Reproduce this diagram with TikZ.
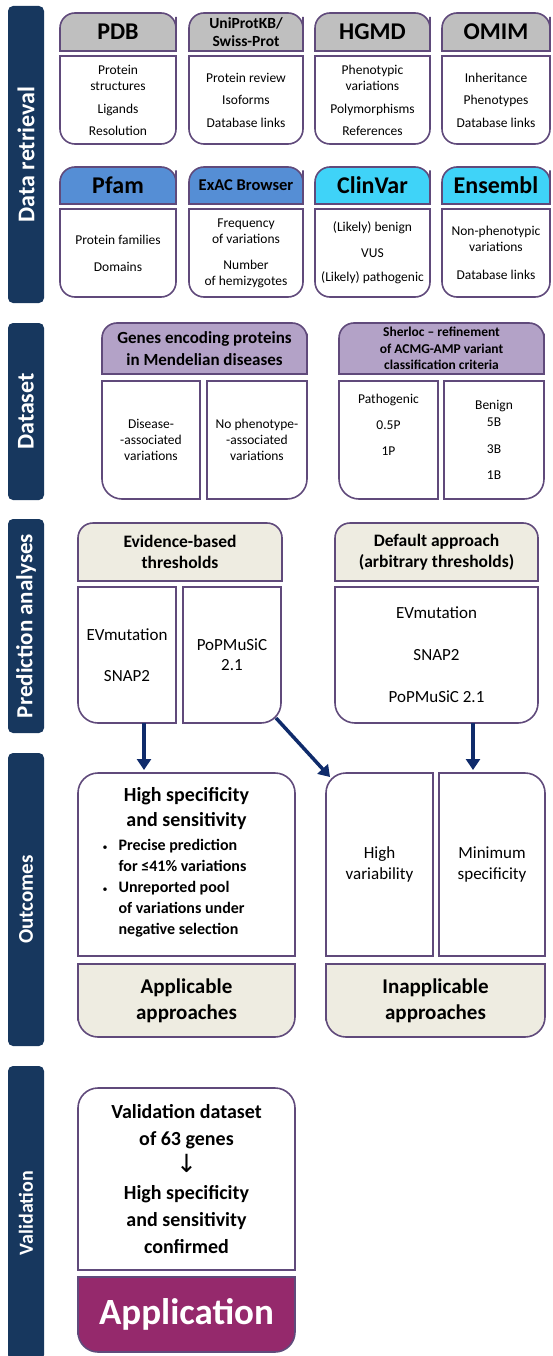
\documentclass[tikz,border=0pt]{standalone}
\usepackage{fontspec}
\setmainfont{Carlito}
\newfontfamily\dejavu{DejaVu Sans}
\usepackage{tikz}
\usetikzlibrary{arrows.meta,backgrounds}

\definecolor{barblue}{HTML}{17375E}
\definecolor{edge}{HTML}{604A7B}
\definecolor{headgray}{HTML}{BFBFBF}
\definecolor{headblue}{HTML}{558ED5}
\definecolor{headcyan}{HTML}{3FD3F8}
\definecolor{headlilac}{HTML}{B3A2C7}
\definecolor{headbeige}{HTML}{EEECE1}
\definecolor{applpurple}{HTML}{95296C}
\definecolor{arrowblue}{HTML}{0F2B6B}

\newcommand{\boxshape}[6]{%
  \filldraw[fill=#2, draw=edge, line width=1.6pt]
    (#1.west) [#3] -- (#1.north west) -- (#1.north)
    [#4] -- (#1.north east) -- (#1.east)
    [#5] -- (#1.south east) -- (#1.south)
    [#6] -- (#1.south west) -- cycle;}
\newcommand{\dotmark}{{\fontsize{10}{10}\selectfont\mdseries •}}

\tikzset{
  rc/.style={rounded corners=15pt},
  rcb/.style={rounded corners=20pt},
  sc/.style={sharp corners},
  sidebar/.style={rotate=90, fill=barblue, rounded corners=5pt, text=white,
    minimum height=36pt, inner sep=0pt, font=\bfseries\fontsize{24}{28}\selectfont},
  cell/.style={inner sep=0pt, outer sep=0pt, align=center},
  dbname/.style={cell, font=\bfseries\fontsize{24}{28}\selectfont},
  dbtext/.style={cell, font=\fontsize{13.5}{16}\selectfont},
  ptext/.style={cell, font=\fontsize{17}{20}\selectfont},
  flow/.style={draw=arrowblue, line width=3.5pt, -{Triangle[length=11pt,width=14pt]}}
}

\begin{document}
\begin{tikzpicture}[x=1pt, y=-1pt]
  \useasboundingbox (0,0) rectangle (552,1356);
  \clip (0,0) rectangle (552,1356);

  \node[sidebar, minimum width=297pt] (retr) at (26,154.5) {Data retrieval};
  \node[sidebar, minimum width=177pt] (dset) at (26,411.5) {Dataset};
  \node[sidebar, minimum width=214pt, font=\bfseries\fontsize{23}{27}\selectfont] (pred) at (26,626) {Prediction analyses};
  \node[sidebar, minimum width=293pt, font=\bfseries\fontsize{21}{25}\selectfont] (outc) at (26,899.5) {Outcomes};
  \node[sidebar, minimum width=294pt, font=\bfseries\fontsize{20}{24}\selectfont] (vali) at (26,1213) {Validation};

  \node[dbname, minimum width=116pt, minimum height=38pt] (pdbh) at (118,32) {PDB};
  \node[dbtext, minimum width=116pt, minimum height=88pt] (pdbb) at (118,100) {Protein\\structures\\[7pt]Ligands\\[6pt]Resolution};
  \node[cell, font=\bfseries\fontsize{15.5}{18}\selectfont, minimum width=114pt, minimum height=38pt] (unih) at (246,32) {UniProtKB/\\Swiss-Prot};
  \node[dbtext, minimum width=114pt, minimum height=88pt] (unib) at (246,100) {Protein review\\[6.5pt]Isoforms\\[6.5pt]Database links};
  \node[dbname, minimum width=115pt, minimum height=38pt] (hgmdh) at (372.5,32) {HGMD};
  \node[dbtext, minimum width=115pt, minimum height=88pt] (hgmdb) at (372.5,100) {Phenotypic\\variations\\[7pt]Polymorphisms\\[6pt]References};
  \node[dbname, minimum width=108pt, minimum height=38pt] (omimh) at (496,32) {OMIM};
  \node[dbtext, minimum width=108pt, minimum height=88pt] (omimb) at (496,100) {Inheritance\\[6.5pt]Phenotypes\\[6.5pt]Database links};

  \node[dbname, minimum width=116pt, minimum height=37pt] (pfamh) at (118,185.5) {Pfam};
  \node[dbtext, minimum width=116pt, minimum height=88pt] (pfamb) at (118,253) {Protein families\\[11pt]Domains};
  \node[cell, font=\bfseries\fontsize{16.5}{19}\selectfont, minimum width=114pt, minimum height=37pt] (exach) at (246,185.5) {ExAC Browser};
  \node[dbtext, minimum width=114pt, minimum height=88pt] (exacb) at (246,253) {Frequency\\of variations\\[10pt]Number\\of hemizygotes};
  \node[dbname, minimum width=115pt, minimum height=37pt] (clinh) at (372.5,185.5) {ClinVar};
  \node[dbtext, minimum width=115pt, minimum height=88pt] (clinb) at (372.5,253) {(Likely) benign\\[10pt]VUS\\[8pt](Likely) pathogenic};
  \node[dbname, minimum width=108pt, minimum height=37pt] (enseh) at (496,185.5) {Ensembl};
  \node[dbtext, minimum width=108pt, minimum height=88pt] (enseb) at (496,253) {Non-phenotypic\\variations\\[12pt]Database links};

  \node[cell, font=\bfseries\fontsize{17}{22}\selectfont, minimum width=205pt, minimum height=51pt] (genesh) at (204.5,348.5) {Genes encoding proteins\\in Mendelian diseases};
  \node[dbtext, minimum width=98pt, minimum height=118pt] (disease) at (151,440) {Disease-\\-associated\\variations};
  \node[dbtext, minimum width=100pt, minimum height=118pt] (nopheno) at (257,440) {No phenotype-\\-associated\\variations};
  \node[cell, font=\bfseries\fontsize{13.5}{16.5}\selectfont, minimum width=205pt, minimum height=51pt] (sherh) at (441.5,348.5) {Sherloc -- refinement\\of ACMG-AMP variant\\classification criteria};
  \node[dbtext, minimum width=99pt, minimum height=118pt] (patho) at (388.5,440) {Pathogenic\\[10pt]0.5P\\[10pt]1P\\[10pt]\strut};
  \node[dbtext, minimum width=100pt, minimum height=118pt] (benign) at (494,440) {Benign\\[1pt]5B\\[11pt]3B\\[10pt]1B};

  \node[cell, font=\bfseries\fontsize{17.5}{21}\selectfont, minimum width=204pt, minimum height=58pt] (evhead) at (180,552) {Evidence-based\\thresholds};
  \node[ptext, minimum width=98pt, minimum height=136pt] (evleft) at (127,655) {EVmutation\\[21pt]SNAP2};
  \node[ptext, minimum width=98pt, minimum height=136pt] (evright) at (232,655) {PoPMuSiC\\2.1};
  \node[cell, font=\bfseries\fontsize{17.5}{21}\selectfont, minimum width=203pt, minimum height=58pt] (defhead) at (436.5,552) {Default approach\\(arbitrary thresholds)};
  \node[ptext, minimum width=203pt, minimum height=136pt] (defbody) at (436.5,655) {EVmutation\\[22pt]SNAP2\\[22pt]PoPMuSiC 2.1};

  \node[cell, font=\bfseries\fontsize{20}{25}\selectfont, minimum width=217pt, minimum height=183pt] (applic) at (186.5,864.5)
    {High specificity\\and sensitivity\\[-1pt]
     {\fontsize{16}{21}\selectfont\begin{tabular}[t]{@{}l@{\hspace{11pt}}l@{}}
       \dotmark&Precise prediction\\ &for ≤41\% variations\\ \dotmark&Unreported pool\\ &of variations under\\ &negative selection
     \end{tabular}\hspace*{24pt}}};
  \node[cell, font=\bfseries\fontsize{21}{26}\selectfont, minimum width=217pt, minimum height=73pt] (applbot) at (186.5,1000.5) {Applicable\\approaches};
  \node[ptext, font=\fontsize{17}{21}\selectfont, minimum width=107pt, minimum height=183pt] (inleft) at (379.5,864.5) {High\\variability};
  \node[ptext, font=\fontsize{17}{21}\selectfont, minimum width=106pt, minimum height=183pt] (inright) at (492,864.5) {Minimum\\specificity};
  \node[cell, font=\bfseries\fontsize{21}{26}\selectfont, minimum width=219pt, minimum height=73pt] (inbot) at (435.5,1000.5) {Inapplicable\\approaches};

  \node[cell, font=\bfseries\fontsize{20}{27}\selectfont, minimum width=217pt, minimum height=182pt] (valid) at (186.5,1179)
    {Validation dataset\\of 63 genes\\{\dejavu\mdseries\fontsize{25}{27}\selectfont ↓}\\High specificity\\and sensitivity\\confirmed};
  \node[cell, font=\bfseries\fontsize{37}{40}\selectfont, text=white, minimum width=217pt, minimum height=75pt] (appl) at (186.5,1314.5) {Application};

  \begin{scope}[on background layer]
    \boxshape{pdbh}{headgray}{rc}{rc}{sc}{sc}
    \boxshape{pdbb}{white}{sc}{sc}{rc}{rc}
    \boxshape{unih}{headgray}{rc}{rc}{sc}{sc}
    \boxshape{unib}{white}{sc}{sc}{rc}{rc}
    \boxshape{hgmdh}{headgray}{rc}{rc}{sc}{sc}
    \boxshape{hgmdb}{white}{sc}{sc}{rc}{rc}
    \boxshape{omimh}{headgray}{rc}{rc}{sc}{sc}
    \boxshape{omimb}{white}{sc}{sc}{rc}{rc}
    \boxshape{pfamh}{headblue}{rc}{rc}{sc}{sc}
    \boxshape{pfamb}{white}{sc}{sc}{rc}{rc}
    \boxshape{exach}{headblue}{rc}{rc}{sc}{sc}
    \boxshape{exacb}{white}{sc}{sc}{rc}{rc}
    \boxshape{clinh}{headcyan}{rc}{rc}{sc}{sc}
    \boxshape{clinb}{white}{sc}{sc}{rc}{rc}
    \boxshape{enseh}{headcyan}{rc}{rc}{sc}{sc}
    \boxshape{enseb}{white}{sc}{sc}{rc}{rc}
    \boxshape{genesh}{headlilac}{rc}{rc}{sc}{sc}
    \boxshape{disease}{white}{sc}{sc}{sc}{rcb}
    \boxshape{nopheno}{white}{sc}{sc}{rcb}{sc}
    \boxshape{sherh}{headlilac}{rc}{rc}{sc}{sc}
    \boxshape{patho}{white}{sc}{sc}{sc}{rcb}
    \boxshape{benign}{white}{sc}{sc}{rcb}{sc}
    \boxshape{evhead}{headbeige}{rc}{rc}{sc}{sc}
    \boxshape{evleft}{white}{sc}{sc}{sc}{rcb}
    \boxshape{evright}{white}{sc}{sc}{rcb}{sc}
    \boxshape{defhead}{headbeige}{rc}{rc}{sc}{sc}
    \boxshape{defbody}{white}{sc}{sc}{rcb}{rcb}
    \boxshape{applic}{white}{rcb}{rcb}{sc}{sc}
    \boxshape{applbot}{headbeige}{sc}{sc}{rcb}{rcb}
    \boxshape{inleft}{white}{rcb}{sc}{sc}{sc}
    \boxshape{inright}{white}{sc}{rcb}{sc}{sc}
    \boxshape{inbot}{headbeige}{sc}{sc}{rcb}{rcb}
    \boxshape{valid}{white}{rcb}{rcb}{sc}{sc}
    \boxshape{appl}{applpurple}{sc}{sc}{rcb}{rcb}
  \end{scope}

  \draw[flow, shorten >=3pt] ([xshift=17pt]evleft.south) -- ([xshift=17pt]evleft.south |- applic.north);
  \draw[flow, shorten >=3pt] ([xshift=36.5pt]defbody.south) -- ([xshift=36.5pt]defbody.south |- inright.north);
  \draw[flow] ([xshift=-5pt,yshift=5pt]evright.south east) -- ([xshift=4pt,yshift=-4pt]inleft.north west);
\end{tikzpicture}
\end{document}
